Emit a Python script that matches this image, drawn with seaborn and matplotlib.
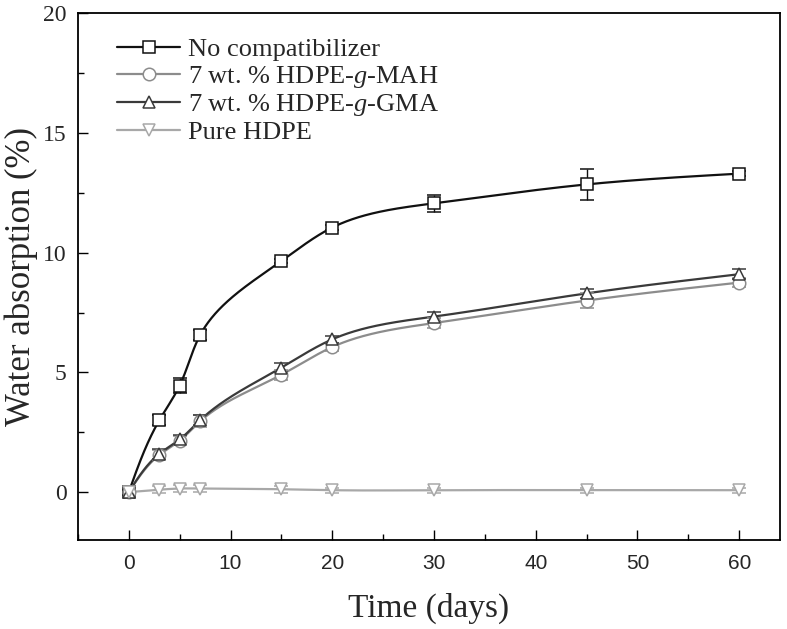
import numpy as np
import pandas as pd
import matplotlib
matplotlib.use("Agg")
import matplotlib.pyplot as plt
import seaborn as sns
from matplotlib.lines import Line2D
from matplotlib.ticker import MultipleLocator

days = [0, 3, 5, 7, 15, 20, 30, 45, 60]
no_comp = [0.0, 3.0, 4.45, 6.55, 9.65, 11.05, 12.06, 12.85, 13.3]
no_comp_err = [0.1, 0.2, 0.3, 0.2, 0.1, 0.1, 0.35, 0.65, 0.1]
mah = [0.0, 1.55, 2.15, 2.95, 4.9, 6.06, 7.06, 8.0, 8.75]
mah_err = [0.1, 0.2, 0.2, 0.25, 0.2, 0.15, 0.2, 0.3, 0.2]
gma = [0.0, 1.6, 2.2, 3.0, 5.2, 6.38, 7.33, 8.3, 9.1]
gma_err = [0.1, 0.2, 0.2, 0.2, 0.2, 0.15, 0.2, 0.2, 0.2]
pure = [0.0, 0.1, 0.15, 0.15, 0.12, 0.08, 0.08, 0.08, 0.08]
pure_err = [0.1, 0.15, 0.15, 0.15, 0.15, 0.1, 0.1, 0.1, 0.1]
labels = ["No compatibilizer", "7 wt. % HDPE-$\\mathit{g}$-MAH",
          "7 wt. % HDPE-$\\mathit{g}$-GMA", "Pure HDPE"]


def _nat(t, v, ts):
    n = len(t); h = np.diff(t)
    A = np.zeros((n, n)); b = np.zeros(n)
    A[0, 0] = 1; A[-1, -1] = 1
    for i in range(1, n - 1):
        A[i, i - 1] = h[i - 1]; A[i, i] = 2 * (h[i - 1] + h[i]); A[i, i + 1] = h[i]
        b[i] = 6 * ((v[i + 1] - v[i]) / h[i] - (v[i] - v[i - 1]) / h[i - 1])
    M = np.linalg.solve(A, b)
    idx = np.clip(np.searchsorted(t, ts) - 1, 0, n - 2)
    ti, ti1, hi = t[idx], t[idx + 1], h[idx]
    return (M[idx] * (ti1 - ts) ** 3 / (6 * hi) + M[idx + 1] * (ts - ti) ** 3 / (6 * hi)
            + (v[idx] / hi - M[idx] * hi / 6) * (ti1 - ts)
            + (v[idx + 1] / hi - M[idx + 1] * hi / 6) * (ts - ti))


def param_spline(x, y, sx=10.23, sy=23.8, num=800):
    # chord-length parametric spline through the data points
    x = np.asarray(x, float); y = np.asarray(y, float)
    d = np.hypot(np.diff(x) * sx, np.diff(y) * sy)
    t = np.concatenate([[0], np.cumsum(d)])
    ts = np.linspace(0, t[-1], num)
    return _nat(t, x, ts), _nat(t, y, ts)


sns.set_theme(style="ticks")
plt.rcParams["font.family"] = ["Liberation Serif", "DejaVu Serif"]
plt.rcParams["mathtext.fontset"] = "custom"
plt.rcParams["mathtext.it"] = "Liberation Serif:italic"
plt.rcParams["mathtext.rm"] = "Liberation Serif"

fig = plt.figure(figsize=(7.87, 6.29), dpi=100)
ax = fig.add_axes([0.099, 0.1415, 0.892, 0.8375])

series = [
    (no_comp, no_comp_err, "s", "#111111"),
    (mah, mah_err, "o", "#8c8c8c"),
    (gma, gma_err, "^", "#3a3a3a"),
    (pure, pure_err, "v", "#a8a8a8"),
]
handles = []
for (vals, err, mk, col), lab in zip(series, labels):
    cx, cy = param_spline(days, vals)
    df = pd.DataFrame({"x": cx, "y": cy})
    sns.lineplot(data=df, x="x", y="y", ax=ax, color=col, lw=1.6,
                 sort=False, estimator=None)
    ax.errorbar(days, vals, yerr=err, fmt=mk, color=col, mfc="white",
                mec=col, ms=9, mew=1.1, ecolor=col, elinewidth=1.0,
                capsize=5, capthick=1.0, zorder=3)
    handles.append(Line2D([0], [0], color=col, lw=1.6, marker=mk, ms=9,
                          mfc="white", mec=col, mew=1.1))

ax.set_xlim(-5, 64)
ax.set_ylim(-2, 20)
ax.xaxis.set_major_locator(MultipleLocator(10))
ax.xaxis.set_minor_locator(MultipleLocator(5))
ax.yaxis.set_major_locator(MultipleLocator(5))
ax.yaxis.set_minor_locator(MultipleLocator(2.5))
ax.tick_params(which="both", direction="in", top=False, right=False,
               width=1.0, color="black")
ax.tick_params(which="major", length=7)
ax.tick_params(which="minor", length=4)
ax.tick_params(axis="y", labelsize=17, pad=8)
ax.tick_params(axis="x", labelsize=15, pad=10)
for t in ax.get_xticklabels():
    t.set_family(["Liberation Sans", "DejaVu Sans"])
for s in ax.spines.values():
    s.set_linewidth(1.3)
    s.set_color("black")

ax.set_xlabel("Time (days)", fontsize=24, labelpad=14)
ax.set_ylabel("Water absorption (%)", fontsize=25, labelpad=4)

ax.legend(handles, labels, loc="upper left", frameon=False, fontsize=19,
          handlelength=2.4, handletextpad=0.3, labelspacing=0.09,
          borderaxespad=0.0, borderpad=0.0, bbox_to_anchor=(0.0556, 0.953))

fig.savefig("out.png", dpi=100)
